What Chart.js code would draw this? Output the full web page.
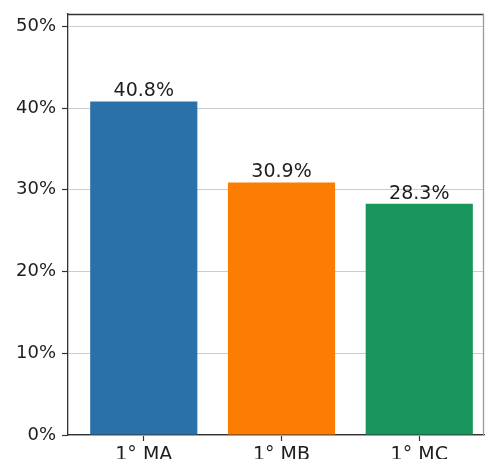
<!DOCTYPE html>
<html>
<head>
<meta charset="utf-8">
<script src="https://cdn.jsdelivr.net/npm/chart.js@4"></script>
<style>
  html, body { margin: 0; padding: 0; background: #fff; overflow: hidden; }
  #wrap { width: 485px; height: 459px; }
</style>
</head>
<body>
<div id="wrap"><canvas id="c" width="485" height="459"></canvas></div>
<script>
const categories = ['1° MA', '1° MB', '1° MC'];
const values = [40.8, 30.9, 28.3];
const barColors = ['#2b71a9', '#fd7c02', '#17955a'];
const yTicks = [0, 10, 20, 30, 40, 50];

const FONT = "'DejaVu Sans', sans-serif";

const frame = {
  id: 'frame',
  afterDraw(chart) {
    const {ctx, chartArea: a} = chart;
    ctx.save();
    ctx.lineWidth = 1.3;
    ctx.strokeStyle = '#333';
    ctx.beginPath();
    ctx.moveTo(a.left, a.top + 0.5);
    ctx.lineTo(a.right, a.top + 0.5);
    ctx.stroke();
    ctx.strokeStyle = '#999';
    ctx.beginPath();
    ctx.moveTo(a.right - 0.5, a.top);
    ctx.lineTo(a.right - 0.5, a.bottom);
    ctx.stroke();
    ctx.restore();
  }
};

const barLabels = {
  id: 'barLabels',
  afterDatasetsDraw(chart) {
    const {ctx} = chart;
    const meta = chart.getDatasetMeta(0);
    ctx.save();
    ctx.font = '19px ' + FONT;
    ctx.fillStyle = '#1e1e1e';
    ctx.textAlign = 'center';
    ctx.textBaseline = 'alphabetic';
    meta.data.forEach((bar, i) => {
      ctx.fillText(values[i].toFixed(1) + '%', bar.x, bar.y - 5);
    });
    ctx.restore();
  }
};

new Chart(document.getElementById('c'), {
  type: 'bar',
  data: {
    datasets: [{
      data: values.map((v, i) => ({x: i, y: v})),
      backgroundColor: barColors,
      borderWidth: 0,
      categoryPercentage: 1,
      barPercentage: 0.778
    }]
  },
  options: {
    responsive: false,
    animation: false,
    devicePixelRatio: 1,
    layout: { padding: { top: 14, right: 1, left: 0, bottom: 0 } },
    plugins: { legend: { display: false }, tooltip: { enabled: false } },
    scales: {
      x: {
        type: 'linear',
        offset: false,
        min: -0.55,
        max: 2.47,
        afterBuildTicks(axis) { axis.ticks = categories.map((_, i) => ({value: i})); },
        afterFit(axis) { axis.height = 24; axis.paddingLeft = 0; axis.paddingRight = 0; },
        grid: { display: true, offset: false, drawOnChartArea: false, drawTicks: true, tickLength: 6, color: '#333', tickColor: '#333', tickWidth: 1.2 },
        border: { display: true, color: '#333', width: 1.3 },
        ticks: {
          color: '#1e1e1e',
          font: { family: FONT, size: 19 },
          padding: 3,
          maxRotation: 0,
          autoSkip: false,
          callback: (v) => categories[v] ?? ''
        }
      },
      y: {
        min: 0,
        max: 51.5,
        afterBuildTicks(axis) { axis.ticks = yTicks.map(v => ({value: v})); },
        afterFit(axis) { axis.width = 68; axis.paddingTop = 0; axis.paddingBottom = 0; },
        grid: { color: '#cccccc', lineWidth: 1, tickColor: '#333', tickLength: 6, tickWidth: 1.2 },
        border: { display: true, color: '#333', width: 1.3 },
        ticks: {
          color: '#1e1e1e',
          font: { family: FONT, size: 18 },
          padding: 6,
          callback: (v) => v + '%'
        }
      }
    }
  },
  plugins: [frame, barLabels]
});
</script>
</body>
</html>
